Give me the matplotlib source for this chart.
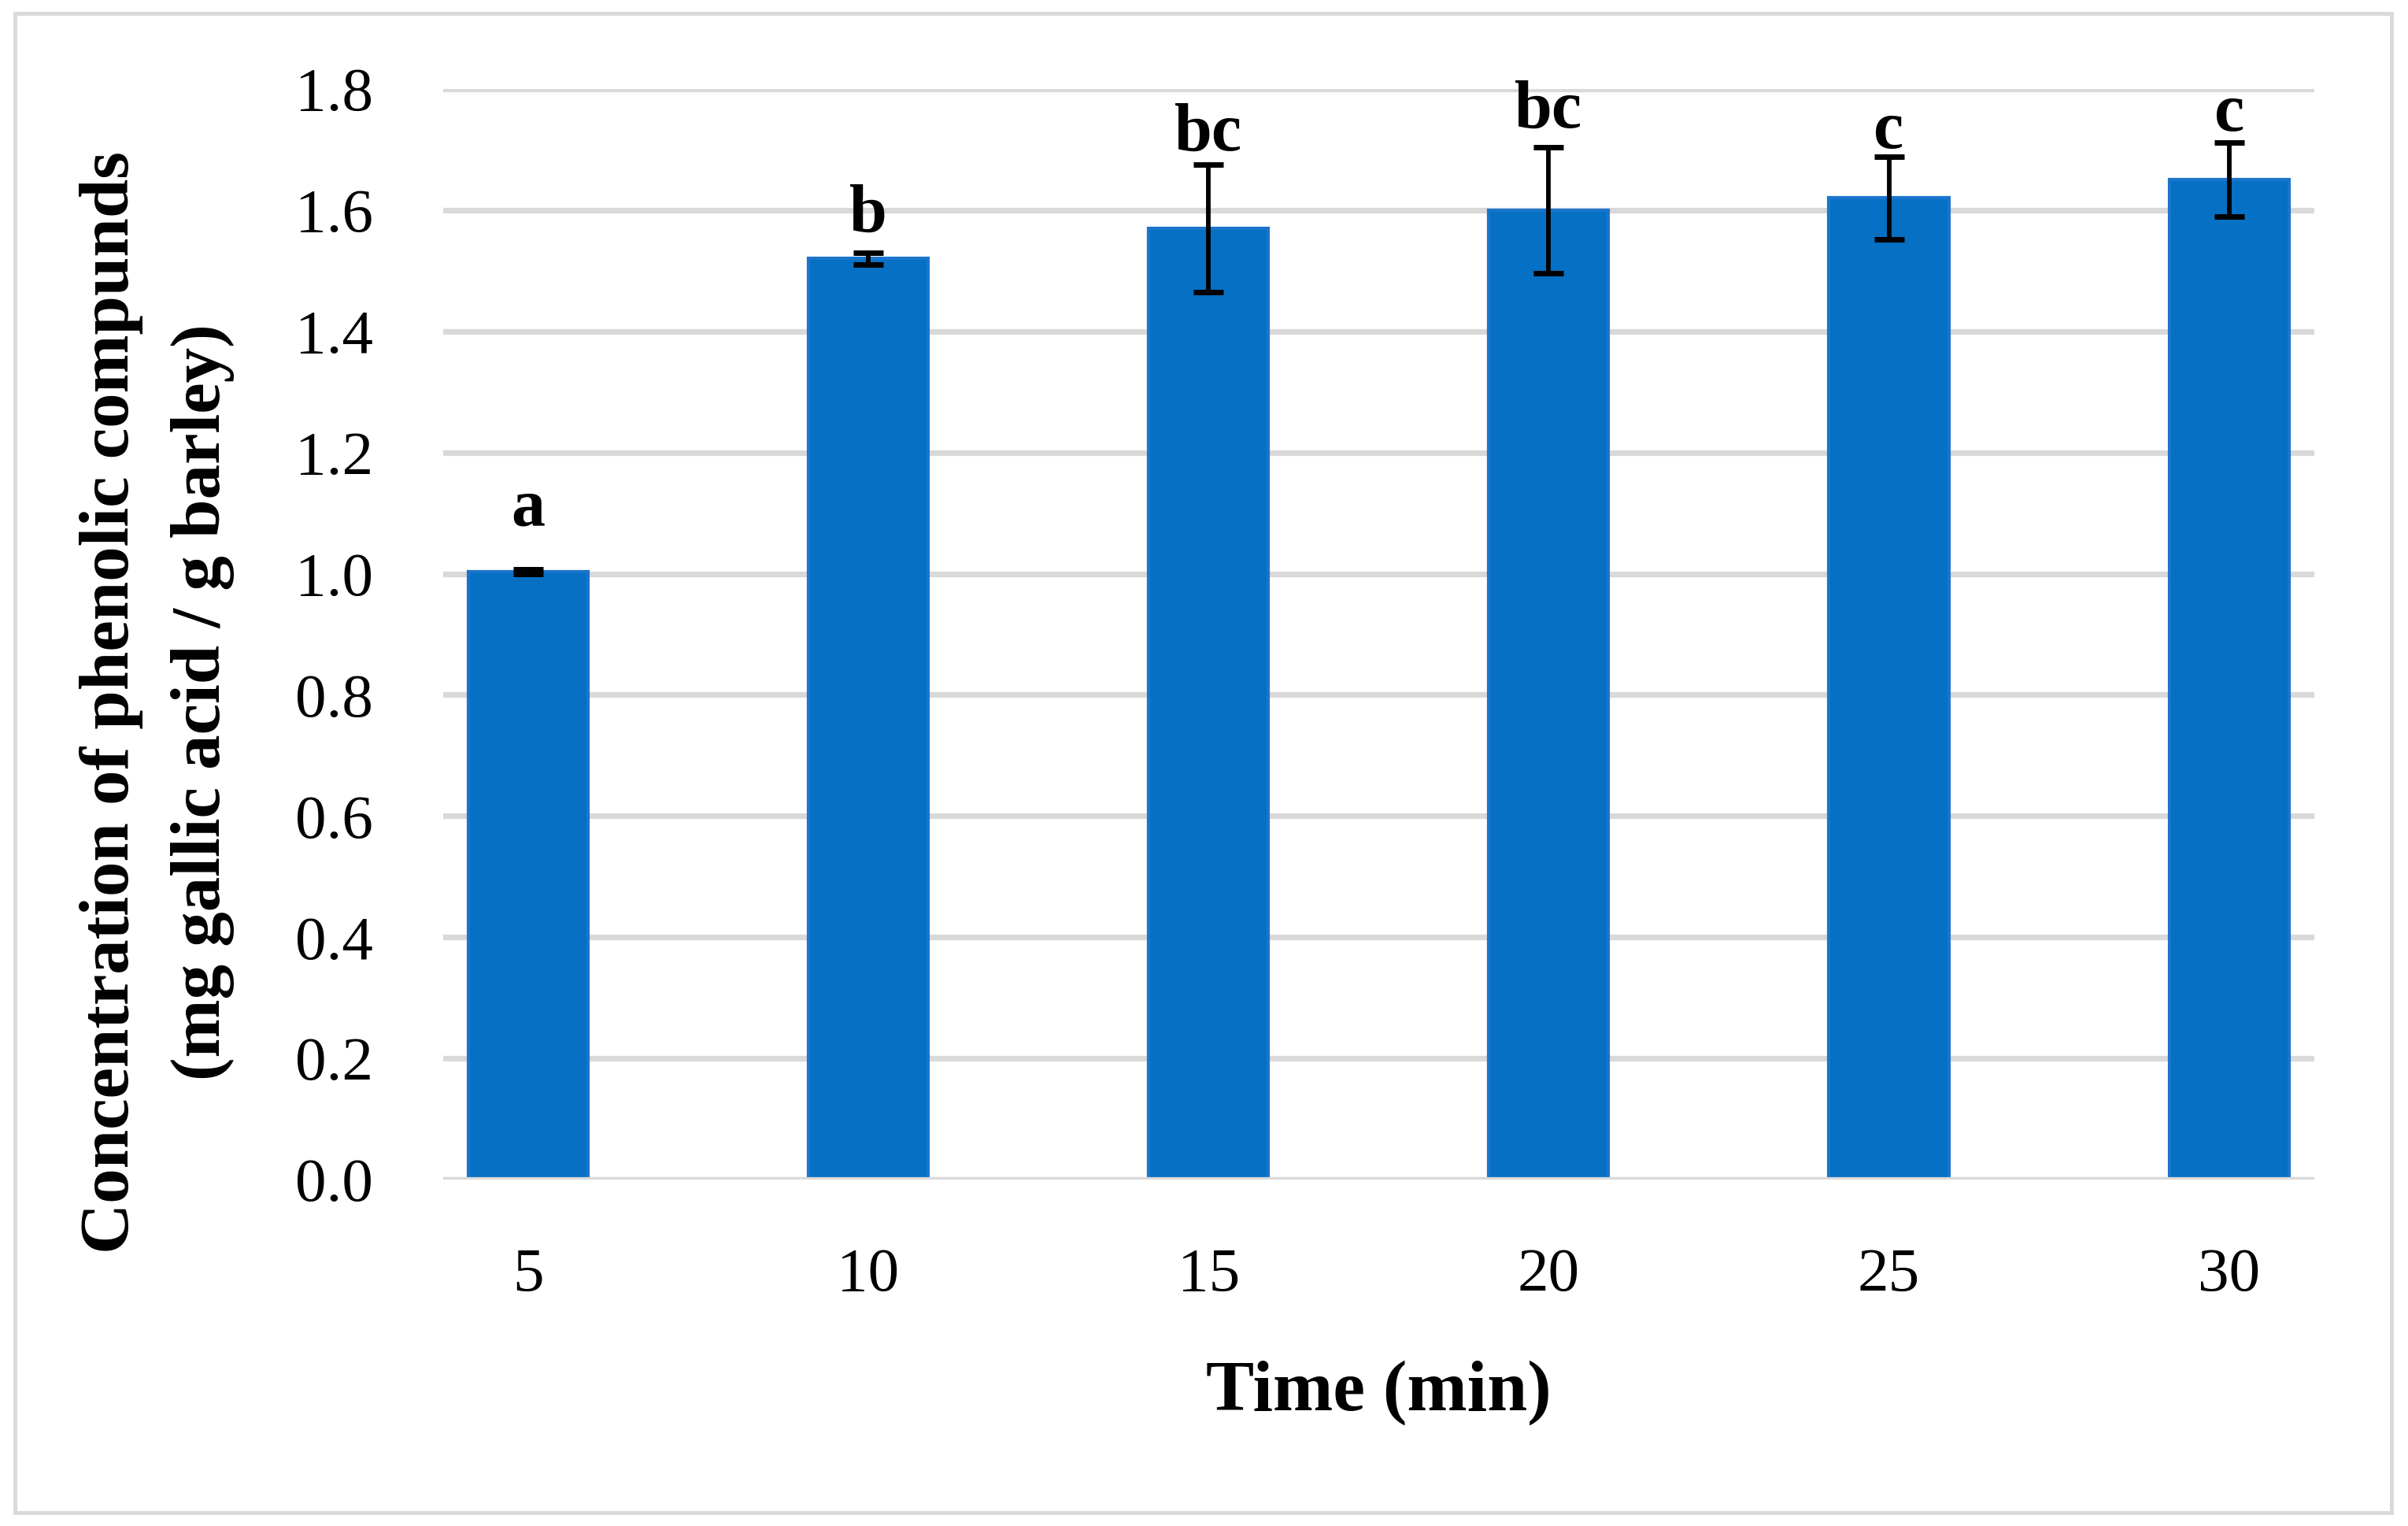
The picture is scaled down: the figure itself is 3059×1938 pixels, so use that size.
import matplotlib

matplotlib.use("Agg")
import matplotlib.pyplot as plt
from matplotlib.patches import Rectangle
import numpy as np

# data
TIMES = ["5", "10", "15", "20", "25", "30"]
MEANS = [1.003, 1.520, 1.570, 1.600, 1.620, 1.650]
ERRORS = [0.004, 0.010, 0.105, 0.104, 0.068, 0.061]
LETTERS = ["a", "b", "bc", "bc", "c", "c"]
LETTER_Y = [1.080, 1.565, 1.699, 1.736, 1.702, 1.731]  # baseline of the letters
Y_TICKS = [0.0, 0.2, 0.4, 0.6, 0.8, 1.0, 1.2, 1.4, 1.6, 1.8]

BAR = "#0570C4"
BAR_EDGE = "#1A75CC"
GRID = "#D9D9D9"

plt.rcParams["font.family"] = ["Liberation Serif", "DejaVu Serif"]

fig = plt.figure(figsize=(30.59, 19.38), dpi=100)
fig.patches.append(Rectangle((0.0062, 0.0088), 0.9869, 0.9822, transform=fig.transFigure,
                             fill=False, edgecolor=GRID, linewidth=3.5))

ax = fig.add_axes([0.184, 0.2270, 0.777, 0.7147])
x = np.arange(len(TIMES))

ax.bar(x, MEANS, width=0.352, color=BAR, edgecolor=BAR_EDGE, linewidth=3, zorder=2)
ax.errorbar(x, MEANS, yerr=ERRORS, fmt="none", ecolor="black", elinewidth=4.2,
            capsize=14, capthick=5, zorder=4)
ax.axhline(0, color=GRID, linewidth=5.2, zorder=3)

for xi, ly, lab in zip(x, LETTER_Y, LETTERS):
    ax.text(xi, ly, lab, ha="center", va="baseline", fontsize=62, fontweight="bold",
            clip_on=False)

ax.set_xlim(-0.25, len(TIMES) - 0.75)
ax.set_ylim(0, 1.8)
ax.set_xticks(x, TIMES)
ax.set_yticks(Y_TICKS, [f"{v:.1f}" for v in Y_TICKS])
ax.tick_params(length=0, labelsize=57, pad=64)
ax.tick_params(axis="x", pad=62)
ax.yaxis.grid(True, color=GRID, linewidth=5.2)
ax.set_axisbelow(True)
for s in ax.spines.values():
    s.set_visible(False)

fig.text(0.5724, 0.0759, "Time (min)", ha="center", va="baseline", fontsize=66,
         fontweight="bold")
fig.text(0.0461, 0.5397, "Concentration of phenolic compunds", rotation=90,
         ha="center", va="center", fontsize=64, fontweight="bold")
fig.text(0.0843, 0.5397, "(mg gallic acid / g barley)", rotation=90,
         ha="center", va="center", fontsize=64, fontweight="bold")

fig.savefig("out.png", dpi=100, facecolor="white")
